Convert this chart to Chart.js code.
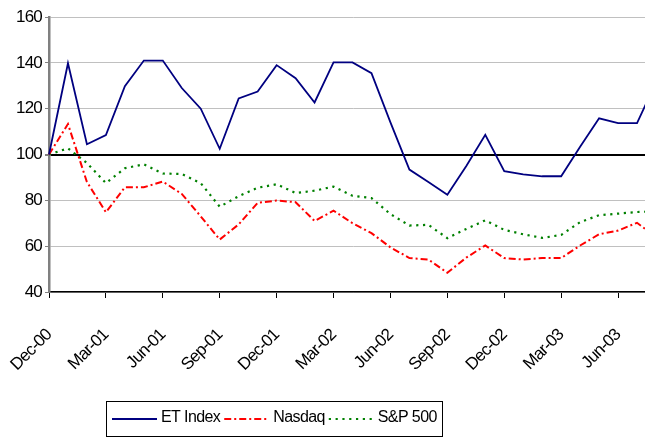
<!DOCTYPE html>
<html>
<head>
<meta charset="utf-8">
<script src="https://cdn.jsdelivr.net/npm/chart.js@4/dist/chart.umd.min.js"></script>
<style>
  html, body { margin: 0; padding: 0; background: #fff; overflow: hidden; }
  #wrap { width: 680px; height: 438px; }
</style>
</head>
<body>
<div id="wrap"><canvas id="c" width="680" height="438"></canvas></div>
<script>
// Monthly index levels, rebased to 100 at Dec-00
const months = [
  'Dec-00','Jan-01','Feb-01','Mar-01','Apr-01','May-01','Jun-01','Jul-01','Aug-01','Sep-01','Oct-01','Nov-01',
  'Dec-01','Jan-02','Feb-02','Mar-02','Apr-02','May-02','Jun-02','Jul-02','Aug-02','Sep-02','Oct-02','Nov-02',
  'Dec-02','Jan-03','Feb-03','Mar-03','Apr-03','May-03','Jun-03','Jul-03','Aug-03'
];
const etIndex = [100, 139.8, 104.5, 108.5, 129.8, 141, 141, 129, 120, 102.5, 124.5, 127.5,
                 139, 133.3, 122.7, 140.2, 140.2, 135.5, 114, 93.4, 88, 82.4, 95, 108.6,
                 92.7, 91.3, 90.5, 90.5, 103.4, 115.8, 113.7, 113.7, 131.5];
const nasdaq  = [100, 113.3, 88, 74.8, 85.7, 85.7, 88.2, 82.8, 73, 62.9, 69.5, 78.9,
                 79.9, 79.2, 71, 75.5, 70, 65.7, 59.5, 54.8, 54.2, 48.4, 55, 60.3,
                 54.8, 54.2, 54.8, 54.8, 60.3, 65.2, 66.8, 70.2, 64];
const sp500   = [100, 102.7, 96.3, 87.5, 94, 95.7, 91.7, 91.5, 87.5, 77.2, 81.8, 85.5,
                 87, 83.2, 84.2, 86, 82, 81, 74, 69, 69.3, 63.5, 67.5, 71.3,
                 67.1, 65.2, 63.6, 64.9, 70.5, 73.5, 74.2, 74.9, 75.2];
const yTicks = [40, 60, 80, 100, 120, 140, 160];
const baseline = 100;

const FONT = "'Liberation Sans', Arial, Helvetica, sans-serif";
const SPACING = '-0.8px';

// tighter glyph spacing for every label on the canvas
const tightText = {
  id: 'tightText',
  beforeLayout(chart) { chart.ctx.letterSpacing = SPACING; },
  beforeDraw(chart) { chart.ctx.letterSpacing = SPACING; }
};

// boxed legend under the chart
const boxLegend = {
  id: 'boxLegend',
  afterDraw(chart) {
    const ctx = chart.ctx;
    ctx.save();
    ctx.letterSpacing = '-0.6px';
    ctx.strokeStyle = '#000';
    ctx.lineWidth = 1;
    ctx.strokeRect(106.5, 401.5, 336, 35);
    ctx.font = '16px ' + FONT;
    ctx.textBaseline = 'middle';
    ctx.fillStyle = '#000';
    let x = 112;
    const y = 419;
    chart.data.datasets.forEach(ds => {
      ctx.save();
      ctx.strokeStyle = ds.borderColor;
      ctx.lineWidth = ds.borderWidth;
      ctx.setLineDash(ds.borderDash || []);
      ctx.beginPath();
      ctx.moveTo(x, y);
      ctx.lineTo(x + 45, y);
      ctx.stroke();
      ctx.restore();
      x += 49;
      ctx.fillText(ds.label, x, y - 1.5);
      x += ctx.measureText(ds.label).width + 4;
    });
    ctx.restore();
  }
};

new Chart(document.getElementById('c'), {
  type: 'line',
  data: {
    labels: months,
    datasets: [
      { label: 'ET Index', data: etIndex, borderColor: '#000080', borderWidth: 1.8, borderDash: [] },
      { label: 'Nasdaq', data: nasdaq, borderColor: '#ff0000', borderWidth: 2, borderDash: [7, 3, 2, 3] },
      { label: 'S&P 500', data: sp500, borderColor: '#008000', borderWidth: 2.2, borderDash: [2.2, 4.6] }
    ]
  },
  options: {
    responsive: false,
    animation: false,
    devicePixelRatio: 1,
    elements: { line: { tension: 0, fill: false }, point: { radius: 0 } },
    layout: { padding: { left: 0, top: 17, right: 24, bottom: 0 } },
    plugins: { legend: { display: false }, tooltip: { enabled: false } },
    scales: {
      x: {
        type: 'category',
        offset: false,
        afterFit(scale) {
          scale.height = 146;
          scale.paddingLeft = 0;
          scale.paddingRight = 0;
        },
        border: { display: true, color: '#000', width: 1.5 },
        grid: { drawOnChartArea: false, drawTicks: true, tickLength: 6, color: '#000', tickColor: '#000', lineWidth: 1 },
        ticks: {
          autoSkip: false,
          maxRotation: 45,
          minRotation: 45,
          padding: 27,
          color: '#000',
          font: { family: FONT, size: 17 },
          callback(value, index) { return index % 3 === 0 ? months[index] : null; }
        }
      },
      y: {
        min: 40,
        max: 160,
        afterFit(scale) { scale.width = 49; },
        afterBuildTicks(scale) { scale.ticks = yTicks.map(v => ({ value: v })); },
        border: { display: true, color: '#808080', width: 2.5 },
        grid: {
          drawTicks: true,
          tickLength: 4,
          tickColor: '#808080',
          color: ctx => (ctx.tick && ctx.tick.value === baseline) ? '#000' : '#c0c0c0',
          lineWidth: ctx => (ctx.tick && ctx.tick.value === baseline) ? 2 : 1
        },
        ticks: {
          padding: 3,
          color: '#000',
          font: { family: FONT, size: 17 }
        }
      }
    }
  },
  plugins: [tightText, boxLegend]
});
</script>
</body>
</html>
